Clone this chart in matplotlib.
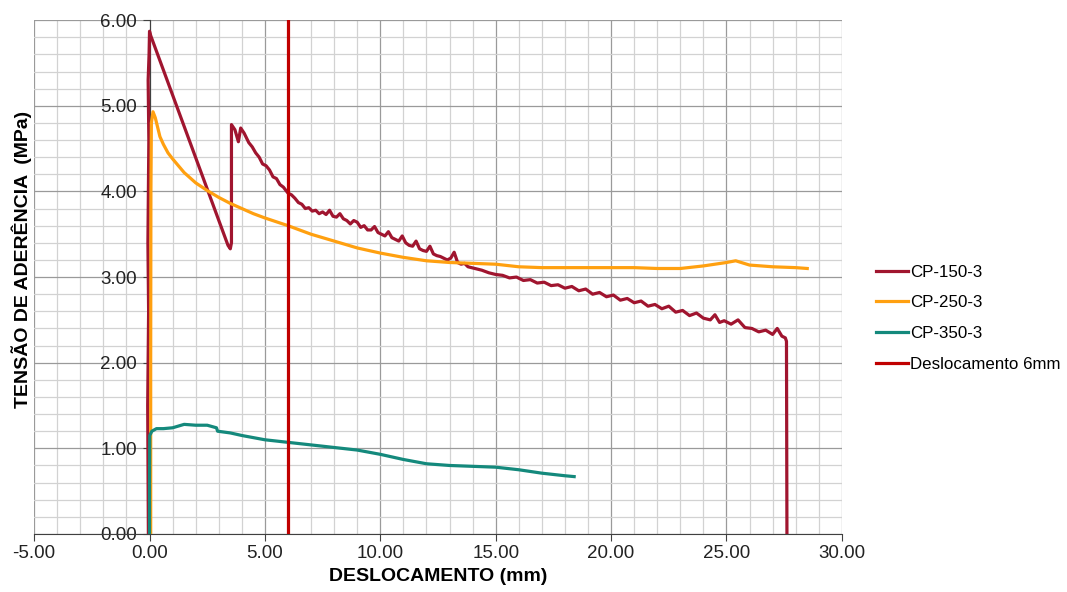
import numpy as np
import matplotlib.pyplot as plt
from matplotlib.ticker import MultipleLocator, FormatStrFormatter

plt.rcParams['font.family'] = ['Liberation Sans', 'DejaVu Sans']

# CP-150-3 (x mm, tensão MPa)
cp150 = [
    (-0.05, 0.00), (-0.08, 1.50), (-0.04, 2.60), (-0.07, 3.40), (-0.03, 4.60),
    (-0.06, 5.30), (-0.02, 5.60), (0.00, 5.87), (0.05, 5.82), (3.40, 3.37),
    (3.50, 3.33), (3.55, 3.40), (3.55, 4.78), (3.70, 4.72), (3.85, 4.58),
    (3.95, 4.74), (4.10, 4.68), (4.30, 4.57), (4.45, 4.52), (4.60, 4.45),
    (4.75, 4.40), (4.90, 4.32), (5.05, 4.30), (5.20, 4.25), (5.35, 4.17),
    (5.50, 4.15), (5.65, 4.08), (5.80, 4.05), (6.00, 3.98), (6.15, 3.96),
    (6.30, 3.92), (6.45, 3.87), (6.60, 3.85), (6.75, 3.80), (6.90, 3.81),
    (7.05, 3.77), (7.20, 3.78), (7.35, 3.74), (7.50, 3.76), (7.65, 3.73),
    (7.80, 3.78), (7.95, 3.71), (8.10, 3.70), (8.25, 3.74), (8.40, 3.68),
    (8.55, 3.66), (8.70, 3.62), (8.85, 3.66), (9.00, 3.64), (9.15, 3.58),
    (9.30, 3.60), (9.45, 3.55), (9.60, 3.55), (9.75, 3.59), (9.90, 3.52),
    (10.05, 3.50), (10.20, 3.48), (10.35, 3.53), (10.50, 3.46), (10.65, 3.44),
    (10.80, 3.42), (10.95, 3.48), (11.10, 3.40), (11.25, 3.37), (11.40, 3.36),
    (11.55, 3.42), (11.70, 3.33), (11.85, 3.31), (12.00, 3.30), (12.15, 3.36),
    (12.30, 3.27), (12.45, 3.25), (12.60, 3.24), (12.75, 3.22), (12.90, 3.20),
    (13.05, 3.22), (13.20, 3.29), (13.35, 3.17), (13.50, 3.15), (13.65, 3.16),
    (13.80, 3.12), (14.10, 3.10), (14.40, 3.08), (14.70, 3.05), (15.00, 3.03),
    (15.30, 3.02), (15.60, 2.99), (15.90, 3.00), (16.20, 2.96), (16.50, 2.97),
    (16.80, 2.93), (17.10, 2.94), (17.40, 2.90), (17.70, 2.91), (18.00, 2.87),
    (18.30, 2.89), (18.60, 2.84), (18.90, 2.86), (19.20, 2.80), (19.50, 2.82),
    (19.80, 2.77), (20.10, 2.79), (20.40, 2.73), (20.70, 2.75), (21.00, 2.70),
    (21.30, 2.72), (21.60, 2.66), (21.90, 2.68), (22.20, 2.63), (22.50, 2.66),
    (22.80, 2.59), (23.10, 2.61), (23.40, 2.55), (23.70, 2.58), (24.00, 2.52),
    (24.30, 2.50), (24.50, 2.56), (24.70, 2.47), (24.90, 2.49), (25.20, 2.45),
    (25.50, 2.50), (25.80, 2.41), (26.10, 2.40), (26.40, 2.36), (26.70, 2.38),
    (27.00, 2.33), (27.20, 2.40), (27.40, 2.31), (27.55, 2.29), (27.60, 2.25),
    (27.62, 0.00),
]

# CP-250-3
cp250 = [
    (0.05, 0.00), (0.05, 2.00), (0.06, 4.00), (0.08, 4.80), (0.15, 4.93),
    (0.25, 4.86), (0.35, 4.75), (0.45, 4.64), (0.60, 4.55), (0.80, 4.45),
    (1.00, 4.38), (1.25, 4.30), (1.50, 4.22), (2.00, 4.10), (2.50, 4.01),
    (3.00, 3.93), (3.50, 3.86), (4.00, 3.80), (4.50, 3.74), (5.00, 3.69),
    (6.00, 3.60), (7.00, 3.50), (8.00, 3.42), (9.00, 3.34), (10.00, 3.28),
    (11.00, 3.23), (12.00, 3.19), (13.00, 3.17), (14.00, 3.16), (15.00, 3.15),
    (16.00, 3.12), (17.00, 3.11), (18.00, 3.11), (19.00, 3.11), (20.00, 3.11),
    (21.00, 3.11), (22.00, 3.10), (23.00, 3.10), (24.00, 3.13), (25.00, 3.17),
    (25.40, 3.19), (26.00, 3.14), (27.00, 3.12), (28.00, 3.11), (28.50, 3.10),
]

# CP-350-3
cp350 = [
    (0.00, 0.00), (0.00, 0.60), (0.01, 1.15), (0.10, 1.20), (0.30, 1.23),
    (0.60, 1.23), (1.00, 1.24), (1.50, 1.28), (2.00, 1.27), (2.50, 1.27),
    (2.90, 1.24), (2.95, 1.20), (3.50, 1.18), (4.00, 1.15), (5.00, 1.10),
    (6.00, 1.07), (7.00, 1.04), (8.00, 1.01), (9.00, 0.98), (10.00, 0.93),
    (11.00, 0.87), (12.00, 0.82), (13.00, 0.80), (14.00, 0.79), (15.00, 0.78),
    (16.00, 0.75), (17.00, 0.71), (18.00, 0.68), (18.40, 0.67),
]

# Deslocamento 6mm
desloc = [(6.0, 0.0), (6.0, 6.0)]

series = [
    ('CP-150-3', cp150, '#A0152F'),
    ('CP-250-3', cp250, '#FFA010'),
    ('CP-350-3', cp350, '#14897C'),
    ('Deslocamento 6mm', desloc, '#C00000'),
]

fig = plt.figure(figsize=(10.67, 5.92), dpi=100)
ax = fig.add_axes([0.032, 0.098, 0.757, 0.868])

for name, pts, color in series:
    arr = np.array(pts)
    ax.plot(arr[:, 0], arr[:, 1], color=color, lw=2.3, label=name, zorder=3)

ax.set_xlim(-5, 30)
ax.set_ylim(0, 6)
ax.xaxis.set_major_locator(MultipleLocator(5))
ax.xaxis.set_minor_locator(MultipleLocator(1))
ax.yaxis.set_major_locator(MultipleLocator(1))
ax.yaxis.set_minor_locator(MultipleLocator(0.2))
ax.xaxis.set_major_formatter(FormatStrFormatter('%.2f'))
ax.yaxis.set_major_formatter(FormatStrFormatter('%.2f'))

ax.grid(which='major', color='#9A9A9A', lw=0.9)
ax.grid(which='minor', color='#D2D2D2', lw=0.9)
ax.set_axisbelow(True)

for s in ['top', 'right']:
    ax.spines[s].set_visible(False)
ax.spines['left'].set_position(('data', 0))
ax.spines['left'].set_color('#404040')
ax.spines['bottom'].set_color('#404040')
ax.tick_params(which='minor', length=0)
ax.tick_params(which='major', length=5, color='#404040', labelsize=13.5, labelcolor='#222222')
ax.tick_params(axis='y', pad=4)
ax.tick_params(axis='x', pad=3)

ax.set_xlabel('DESLOCAMENTO (mm)', fontsize=14, fontweight='bold', labelpad=4)
fig.text(0.020, 0.562, 'TENSÃO DE ADERÊNCIA  (MPa)', rotation=90, ha='center', va='center',
         fontsize=14, fontweight='bold')

ax.legend(loc='center left', bbox_to_anchor=(1.034, 0.42), frameon=False, fontsize=12.2,
          handlelength=1.9, handletextpad=0.1, labelspacing=0.92, borderaxespad=0)

fig.savefig('out.png', dpi=100)
